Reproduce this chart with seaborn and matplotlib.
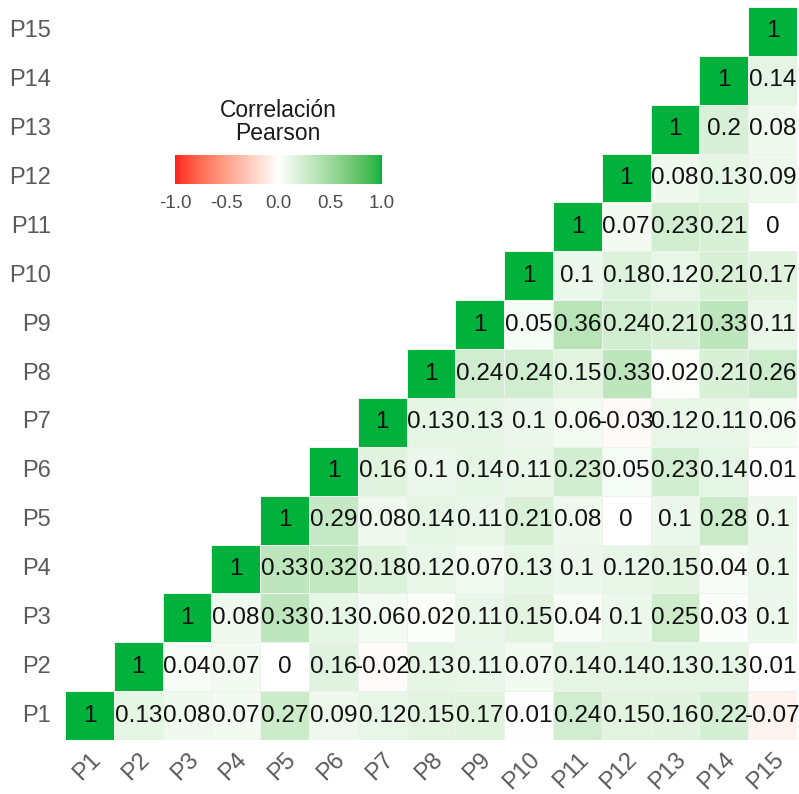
import numpy as np
import pandas as pd
import seaborn as sns
import matplotlib
matplotlib.use("Agg")
import matplotlib.pyplot as plt
from matplotlib.colors import ListedColormap, Normalize
from matplotlib.cm import ScalarMappable

# Variable names
labels = [f"P{i}" for i in range(1, 16)]

# Upper-triangle correlations, one list per row (starting at the diagonal)
row_p1 = [1, 0.13, 0.08, 0.07, 0.27, 0.09, 0.12, 0.15, 0.17, 0.01, 0.24, 0.15, 0.16, 0.22, -0.07]
row_p2 = [1, 0.04, 0.07, 0, 0.16, -0.02, 0.13, 0.11, 0.07, 0.14, 0.14, 0.13, 0.13, 0.01]
row_p3 = [1, 0.08, 0.33, 0.13, 0.06, 0.02, 0.11, 0.15, 0.04, 0.1, 0.25, 0.03, 0.1]
row_p4 = [1, 0.33, 0.32, 0.18, 0.12, 0.07, 0.13, 0.1, 0.12, 0.15, 0.04, 0.1]
row_p5 = [1, 0.29, 0.08, 0.14, 0.11, 0.21, 0.08, 0, 0.1, 0.28, 0.1]
row_p6 = [1, 0.16, 0.1, 0.14, 0.11, 0.23, 0.05, 0.23, 0.14, 0.01]
row_p7 = [1, 0.13, 0.13, 0.1, 0.06, -0.03, 0.12, 0.11, 0.06]
row_p8 = [1, 0.24, 0.24, 0.15, 0.33, 0.02, 0.21, 0.26]
row_p9 = [1, 0.05, 0.36, 0.24, 0.21, 0.33, 0.11]
row_p10 = [1, 0.1, 0.18, 0.12, 0.21, 0.17]
row_p11 = [1, 0.07, 0.23, 0.21, 0]
row_p12 = [1, 0.08, 0.13, 0.09]
row_p13 = [1, 0.2, 0.08]
row_p14 = [1, 0.14]
row_p15 = [1]

rows = [row_p1, row_p2, row_p3, row_p4, row_p5, row_p6, row_p7, row_p8,
        row_p9, row_p10, row_p11, row_p12, row_p13, row_p14, row_p15]

n = len(labels)
corr = np.full((n, n), np.nan)
for i, r in enumerate(rows):
    corr[i, i:] = r
    corr[i:, i] = r
df = pd.DataFrame(corr, index=labels, columns=labels)

# Show P1 at the bottom: reverse the row order
df_plot = df.iloc[::-1]
mask = np.zeros((n, n), dtype=bool)
for a in range(n):          # a: display row (0 = P15)
    i = n - 1 - a           # variable index of that row
    for j in range(n):
        if j < i:
            mask[a, j] = True

annot = np.empty((n, n), dtype=object)
for a in range(n):
    for j in range(n):
        v = df_plot.values[a, j]
        annot[a, j] = f"{v:g}" if not mask[a, j] else ""


# Diverging red-white-green palette interpolated in CIE Lab
def srgb_to_lab(rgb):
    rgb = np.asarray(rgb, float)
    lin = np.where(rgb <= 0.04045, rgb / 12.92, ((rgb + 0.055) / 1.055) ** 2.4)
    M = np.array([[0.4124, 0.3576, 0.1805],
                  [0.2126, 0.7152, 0.0722],
                  [0.0193, 0.1192, 0.9505]])
    xyz = M @ lin
    xyz = xyz / np.array([0.95047, 1.0, 1.08883])
    f = np.where(xyz > 0.008856, np.cbrt(xyz), 7.787 * xyz + 16 / 116)
    return np.array([116 * f[1] - 16, 500 * (f[0] - f[1]), 200 * (f[1] - f[2])])


def lab_to_srgb(lab):
    L, A, B = lab
    fy = (L + 16) / 116
    fx = fy + A / 500
    fz = fy - B / 200
    f = np.array([fx, fy, fz])
    xyz = np.where(f ** 3 > 0.008856, f ** 3, (f - 16 / 116) / 7.787)
    xyz = xyz * np.array([0.95047, 1.0, 1.08883])
    Minv = np.array([[3.2406, -1.5372, -0.4986],
                     [-0.9689, 1.8758, 0.0415],
                     [0.0557, -0.2040, 1.0570]])
    lin = Minv @ xyz
    lin = np.clip(lin, 0, 1)
    rgb = np.where(lin <= 0.0031308, 12.92 * lin, 1.055 * lin ** (1 / 2.4) - 0.055)
    return np.clip(rgb, 0, 1)


def hex_rgb(h):
    h = h.lstrip("#")
    return np.array([int(h[k:k + 2], 16) / 255 for k in (0, 2, 4)])


low_c, mid_c, high_c = hex_rgb("#FF1E1E"), hex_rgb("#FFFFFF"), hex_rgb("#00B13C")
lab_low, lab_mid, lab_high = srgb_to_lab(low_c), srgb_to_lab(mid_c), srgb_to_lab(high_c)
colors = []
for t in np.linspace(-1, 1, 256):
    if t < 0:
        lab = lab_mid + (lab_low - lab_mid) * (-t)
    else:
        lab = lab_mid + (lab_high - lab_mid) * t
    colors.append(lab_to_srgb(lab))
cmap = ListedColormap(colors)

sns.set_theme(style="white")
plt.rcParams["font.family"] = ["Liberation Sans", "DejaVu Sans"]

fig = plt.figure(figsize=(7.99, 7.94), dpi=100)
ax = fig.add_axes([65 / 799, 54 / 794, 732 / 799, 733 / 794])

sns.heatmap(df_plot, mask=mask, cmap=cmap, vmin=-1, vmax=1,
            annot=annot, fmt="", annot_kws={"fontsize": 17.5, "color": "#111111"},
            linewidths=0.6, linecolor="#EEF3EE", cbar=False, square=False, ax=ax)

# Cell outlines only on the drawn (upper) triangle
mesh = ax.collections[0]
edge = np.array([(0.93, 0.95, 0.93, 1.0) if not m else (1, 1, 1, 0.0)
                 for m in mask.ravel()])
mesh.set_edgecolor(edge)

ax.tick_params(axis="both", length=0, labelsize=17, colors="#5A5A5A")
ax.tick_params(axis="y", pad=10)
ax.tick_params(axis="x", pad=6)
ax.set_yticklabels(ax.get_yticklabels(), rotation=0)
ax.set_xticklabels(ax.get_xticklabels(), rotation=45, ha="right", rotation_mode="anchor")
ax.set_xlabel("")
ax.set_ylabel("")
for s in ax.spines.values():
    s.set_visible(False)

# Horizontal colour bar legend
cax = fig.add_axes([175 / 799, (794 - 184) / 794, 207 / 799, 29 / 794])
sm = ScalarMappable(norm=Normalize(-1, 1), cmap=cmap)
cb = fig.colorbar(sm, cax=cax, orientation="horizontal", ticks=[-1, -0.5, 0, 0.5, 1])
cb.outline.set_visible(False)
cb.ax.set_xticklabels(["-1.0", "-0.5", "0.0", "0.5", "1.0"])
cax.tick_params(axis="x", direction="in", length=5, width=1, color="white",
                labelcolor="#4D4D4D", labelsize=13.5, pad=8, top=True, bottom=True)
fig.text(278 / 799, (794 - 122) / 794, "Correlación\nPearson", ha="center", va="center",
         fontsize=16.5, color="#1A1A1A", linespacing=1.05)

fig.savefig("out.png", dpi=100)
